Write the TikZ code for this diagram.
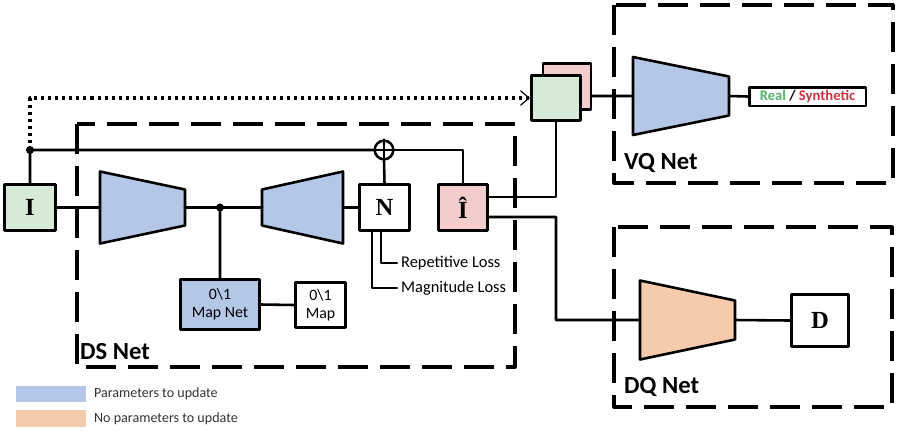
\documentclass[tikz,border=0pt]{standalone}
\usepackage{fontspec}
\setmainfont{Carlito}
\newfontfamily\serifbf{Liberation Serif}
\usetikzlibrary{positioning,arrows.meta}
\definecolor{updblue}{RGB}{180,199,231}
\definecolor{fixorange}{RGB}{246,203,172}
\definecolor{imggreen}{RGB}{213,235,216}
\definecolor{imgpink}{RGB}{243,204,204}
\definecolor{realgreen}{RGB}{84,178,106}
\definecolor{synred}{RGB}{204,51,64}
%% trapezoid block: name, x left, x right, y centre, half height left, half height right, fill
\newcommand{\netblock}[7]{%
  \draw[trapline, fill=#7] ({#2},{#4-#5}) -- ({#3},{#4-#6}) -- ({#3},{#4+#6}) -- ({#2},{#4+#5}) -- cycle;
  \coordinate (#1-in) at ({#2},{#4});
  \coordinate (#1-out) at ({#3},{#4});}
\begin{document}
\begin{tikzpicture}[x=0.03cm,y=-0.03cm,line join=round,line cap=round,>={Straight Barb[length=2.6mm,width=4.4mm,line width=1pt]},
  box/.style={draw,line width=2.2pt,inner sep=0pt,align=center},
  trapline/.style={line width=2.2pt},
  wire/.style={line width=2.2pt},
  netframe/.style={line width=2.6pt,dash pattern=on 0.9cm off 0.36cm,line cap=butt},
  netlabel/.style={font=\bfseries\fontsize{21}{24}\selectfont,anchor=west},
  letter/.style={font=\serifbf\bfseries\fontsize{21}{24}\selectfont},
  losslabel/.style={font=\fontsize{14}{16}\selectfont,anchor=west},
  legendtext/.style={font=\fontsize{12}{14}\selectfont,anchor=west,text=black!80}]
  \useasboundingbox (0,0) rectangle (902,436);
  %% dashed frames
  \draw[netframe] (77,124) rectangle (515,367);
  \draw[netframe] (614,5) rectangle (893,183);
  \draw[netframe] (614,227) rectangle (892,407);
  \node[netlabel] (dslabel) at (76,352) {DS Net};
  \node[netlabel] (vqlabel) at (620,163) {VQ Net};
  \node[netlabel] (dqlabel) at (620,387) {DQ Net};
  %% DS Net
  \node[box,fill=imggreen,letter,minimum width=1.54cm,minimum height=1.39cm] (img) at (30,207.5) {I};
  \netblock{enc}{100}{185}{207.5}{36}{18}{updblue}
  \netblock{dec}{262}{343}{207.5}{18}{36}{updblue}
  \node[box,letter,minimum width=1.51cm,minimum height=1.39cm] (noise) at (384.5,207.5) {N};
  \node[box,fill=imgpink,letter,minimum width=1.48cm,minimum height=1.39cm] (ihat) at (463,207.5) {\^I};
  \node[box,fill=updblue,font=\fontsize{13.5}{15}\selectfont,minimum width=2.38cm,minimum height=1.51cm] (mapnet) at (220,304.5) {0\textbackslash1\\Map Net};
  \node[box,font=\fontsize{13.5}{15}\selectfont,minimum width=1.51cm,minimum height=1.36cm] (map) at (320.5,305) {0\textbackslash1\\Map};
  \node[draw,circle,line width=2.2pt,minimum size=0.56cm,inner sep=0pt] (plus) at (384,150) {};
  \draw[wire] (plus.north)--(plus.south) (plus.west)--(plus.east);
  \coordinate (tap) at (30,150);
  \coordinate (mid) at (220,207.5);
  \draw[wire] (img.east)--(enc-in) (enc-out)--(dec-in) (dec-out)--(noise.west);
  \draw[wire] (mid)--(mapnet.north) (mapnet.east)--(map.west);
  \draw[wire] (img.north)--(tap)--(plus.west) (plus.south)--(noise.north);
  \draw[wire] (plus.east)-|(ihat.north);
  \fill (tap) circle(4) (mid) circle(4);
  %% losses
  \coordinate (reploss) at (397,263);
  \coordinate (magloss) at (397,288);
  \draw[wire] (381,232)|-(reploss) (372,232)|-(magloss);
  \node[losslabel] (reptext) at (reploss) {Repetitive Loss};
  \node[losslabel] (magtext) at (magloss) {Magnitude Loss};
  %% VQ Net
  \node[box,fill=imgpink,minimum width=1.45cm,minimum height=1.39cm] (fakebox) at (567,86.5) {};
  \node[box,fill=imggreen,minimum width=1.48cm,minimum height=1.36cm] (realbox) at (556,98) {};
  \draw[->,line width=2.7pt,dash pattern=on 2.6pt off 3.4pt,line cap=butt] (tap)|-(realbox.west);
  \netblock{vq}{633}{729}{96}{39}{19.5}{updblue}
  \node[box,line width=2pt,font=\bfseries\fontsize{12.5}{14}\selectfont,minimum width=3.49cm,minimum height=0.55cm] (judge) at (807.5,96.5)
    {\textcolor{realgreen}{Real} / \textcolor{synred}{Synthetic}};
  \coordinate (vqturn) at (556,197);
  \draw[wire] (ihat.east|-vqturn)--(vqturn)--(realbox.south);
  \draw[wire] (fakebox.east|-vq-in)--(vq-in) (vq-out)--(judge.west);
  %% DQ Net
  \netblock{dq}{640}{735}{320}{39.5}{19.5}{fixorange}
  \node[box,letter,minimum width=1.72cm,minimum height=1.57cm] (dist) at (820,320.5) {D};
  \coordinate (dqturn) at (556,217);
  \draw[wire] (ihat.east|-dqturn)--(dqturn)|-(dq-in) (dq-out)--(dist.west);
  %% legend
  \fill[updblue] (16,386) rectangle (86,402);
  \fill[fixorange] (16,410) rectangle (86,427);
  \node[legendtext] (updtext) at (90,394) {Parameters to update};
  \node[legendtext] (fixtext) at (90,418.5) {No parameters to update};
\end{tikzpicture}
\end{document}
